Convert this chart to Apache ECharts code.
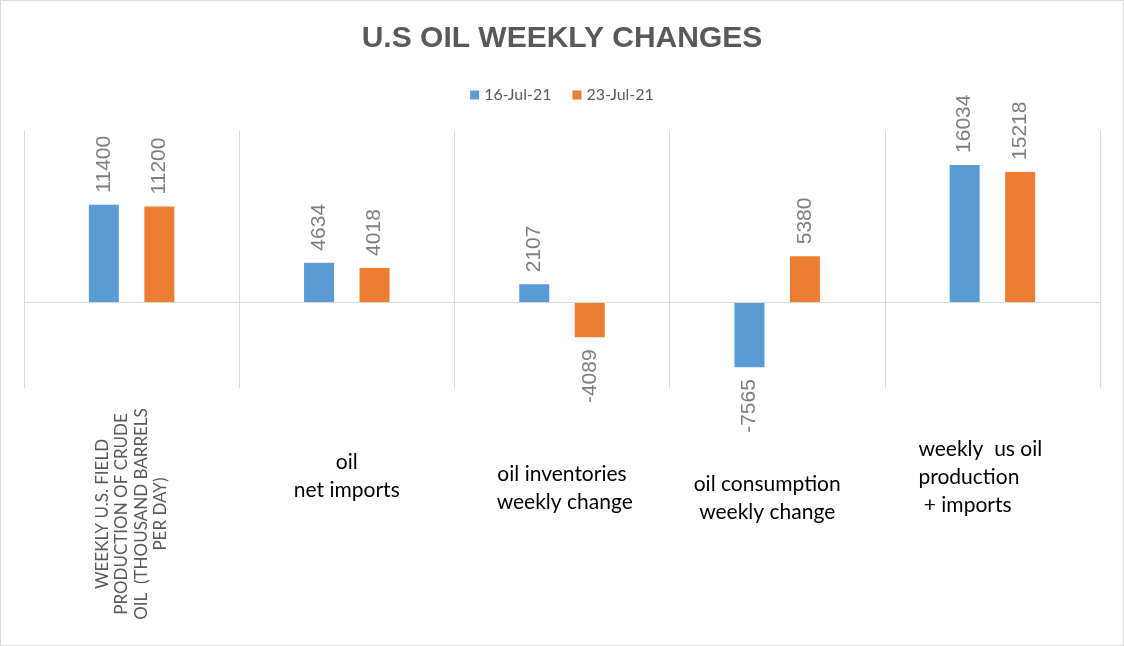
<!DOCTYPE html>
<html>
<head>
<meta charset="utf-8">
<title>U.S Oil Weekly Changes</title>
<script src="https://cdn.jsdelivr.net/npm/echarts@6/dist/echarts.min.js"></script>
<style>
	html, body { margin: 0; padding: 0; background: #fff; }
	#main { width: 1122px; height: 644px; border: 1px solid #d9d9d9; }
</style>
</head>
<body>
<div id="main"></div>
<script>
// 分类
var categories = [
	'WEEKLY U.S. FIELD\nPRODUCTION OF CRUDE\nOIL  (THOUSAND BARRELS\nPER DAY)',
	'oil\nnet imports',
	'oil inventories\n weekly change',
	'oil consumption\nweekly change',
	'weekly  us oil\nproduction\n + imports'
];
// 系列
var seriesNames = ['16-Jul-21', '23-Jul-21'];
var jul16Values = [11400, 4634, 2107, -7565, 16034];
var jul23Values = [11200, 4018, -4089, 5380, 15218];
// 数值轴范围
var yMin = -10000;
var yMax = 20000;

var myChart;
var myChartColor = ['#5B9BD5', '#ED7D31'];

// 柱状图数据（负值标签放在下方）
function barData(values) {
	var lst = [];
	for (var i = 0; i < values.length; i++) {
		if (values[i] < 0) {
			lst.push({
				value : values[i],
				label : { position : 'bottom', align : 'right' }
			});
		} else {
			lst.push(values[i]);
		}
	}
	return lst;
}

function barSeries(name, values, idx) {
	var s = {
		name : name,
		type : 'bar',
		barWidth : 30,
		barGap : '85%',
		itemStyle : { color : myChartColor[idx] },
		label : {
			show : true,
			position : 'top',
			rotate : 90,
			align : 'left',
			verticalAlign : 'middle',
			distance : 12,
			color : '#7f7f7f',
			fontSize : 21,
			fontFamily : 'Liberation Sans'
		},
		data : barData(values)
	};
	if (idx == 0) {
		// 零线
		s.markLine = {
			silent : true,
			symbol : 'none',
			label : { show : false },
			lineStyle : { color : '#d9d9d9', type : 'solid', width : 1 },
			data : [{ yAxis : 0 }]
		};
	}
	return s;
}

function chartSetting() {
	// 横轴文字上下偏移
	var labelPads = [[0, 0, 0, 0], [13, 0, 0, 0], [25, 0, 0, 0], [35, 20, 0, 0], [0, 0, 0, 0]];
	var axisData = [];
	for (var i = 0; i < categories.length; i++) {
		axisData.push({ value : categories[i], textStyle : { padding : labelPads[i] } });
	}
	var option = {
		animation : false,
		title : {
			text : 'U.S OIL WEEKLY CHANGES',
			left : 'center',
			top : 18,
			textStyle : {
				color : '#595959',
				fontSize : 30,
				fontWeight : 'bold',
				fontFamily : 'Liberation Sans'
			}
		},
		legend : {
			data : seriesNames,
			left : 'center',
			top : 81,
			icon : 'rect',
			itemWidth : 9,
			itemHeight : 9,
			itemGap : 21,
			textStyle : { color : '#595959', fontSize : 16, fontFamily : 'Lato' }
		},
		grid : {
			left : 23,
			right : 23,
			top : 130,
			bottom : 257,
			containLabel : false
		},
		xAxis : [{
			type : 'category',
			position : 'bottom',
			data : axisData,
			axisLine : { show : false },
			axisTick : { show : false },
			splitLine : { show : true, lineStyle : { color : '#d9d9d9' } },
			axisLabel : {
				interval : 0,
				hideOverlap : false,
				margin : 47,
				color : '#000',
				fontSize : 21,
				lineHeight : 28,
				fontFamily : 'Lato',
				formatter : function(v, i) {
					if (i == 0) return '';
					if (i == 4) {
						return v.split('\n').map(function(t) { return '{w|' + t + '}'; }).join('\n');
					}
					return v;
				},
				rich : {
					w : { width : 148, align : 'left', color : '#000', fontSize : 21, lineHeight : 28, fontFamily : 'Lato' }
				}
			}
		}, {
			type : 'category',
			position : 'bottom',
			data : categories,
			axisLine : { show : false },
			axisTick : { show : false },
			splitLine : { show : false },
			axisLabel : {
				interval : 0,
				hideOverlap : false,
				rotate : 90,
				align : 'center',
				verticalAlign : 'middle',
				margin : 126,
				color : '#595959',
				fontSize : 17,
				lineHeight : 19.5,
				fontFamily : 'Lato',
				formatter : function(v, i) {
					return i == 0 ? v : '';
				}
			}
		}],
		yAxis : [{
			type : 'value',
			min : yMin,
			max : yMax,
			interval : 10000,
			show : false
		}],
		series : [
			barSeries(seriesNames[0], jul16Values, 0),
			barSeries(seriesNames[1], jul23Values, 1)
		]
	};
	myChart.setOption(option);
}

myChart = echarts.init(document.getElementById('main'));
chartSetting();
window.onresize = myChart.resize;
</script>
</body>
</html>
